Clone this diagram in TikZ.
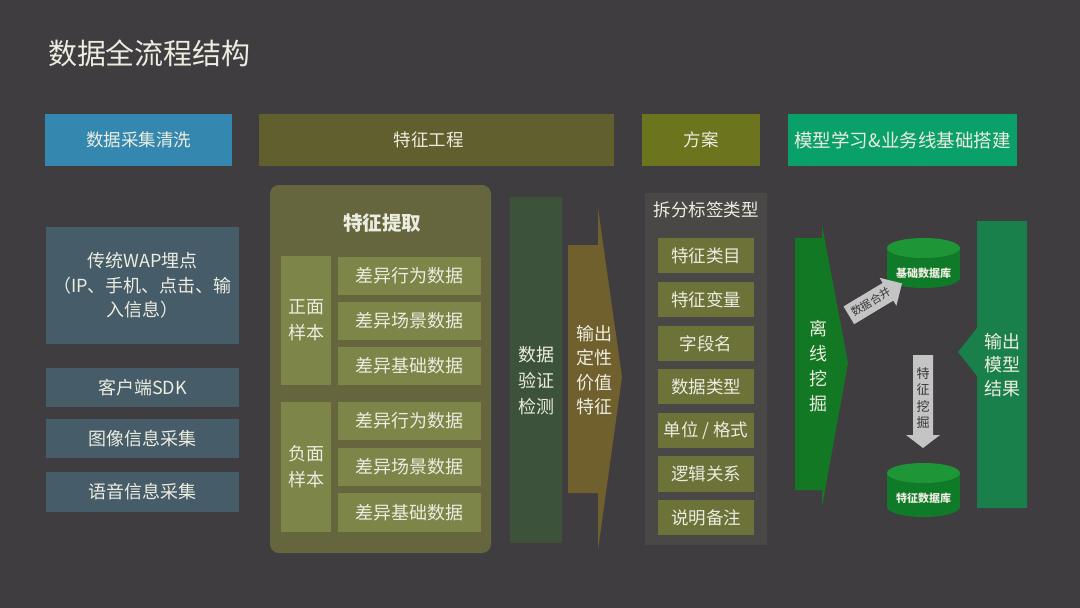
\documentclass[tikz,border=0pt]{standalone}
\usepackage{fontspec}
\setmainfont{Noto Sans CJK SC}
\usetikzlibrary{shapes.geometric,shapes.arrows}
\definecolor{bg}{RGB}{63,61,64}
\definecolor{txt}{RGB}{236,236,224}
\definecolor{hblue}{RGB}{52,136,176}
\definecolor{holive}{RGB}{96,95,45}
\definecolor{hplan}{RGB}{108,116,30}
\definecolor{hgreen}{RGB}{10,160,105}
\definecolor{slate}{RGB}{70,92,104}
\definecolor{panel}{RGB}{102,102,62}
\definecolor{inner}{RGB}{125,133,72}
\definecolor{verify}{RGB}{60,82,58}
\definecolor{outarrow}{RGB}{112,96,46}
\definecolor{planbg}{RGB}{74,72,70}
\definecolor{planbox}{RGB}{108,114,56}
\definecolor{mine}{RGB}{18,120,35}
\definecolor{cyltop}{RGB}{30,150,55}
\definecolor{cylside}{RGB}{15,122,40}
\definecolor{result}{RGB}{25,128,75}
\definecolor{lgray}{RGB}{196,196,196}
\definecolor{dtxt}{RGB}{55,55,55}
\newcommand\rectnode[7]{\node[#6, minimum width={(#4-#2)*1pt}, minimum height={(#5-#3)*1pt}] (#1) at ({(#2+#4)/2},{(#3+#5)/2}) {#7};}
\tikzset{
  hdr/.style={font=\fontsize{17.5}{17.5}\selectfont},
  lbox/.style={fill=slate, font=\fontsize{18}{24.5}\selectfont},
  fbox/.style={fill=inner, font=\fontsize{18}{26}\selectfont},
  pbox/.style={fill=planbox, font=\fontsize{17.5}{17.5}\selectfont},
  vtext/.style={font=\fontsize{18}{25}\selectfont},
  dblabel/.style={font=\fontsize{11}{11}\selectfont\bfseries},
}
\begin{document}
\begin{tikzpicture}[x=1pt,y=-1pt, every node/.style={inner sep=0pt, outer sep=0pt, text=txt, align=center}]
\fill[bg] (0,0) rectangle (1080,608);
\useasboundingbox (0,0) rectangle (1080,608);
% title
\node[anchor=west, font=\fontsize{29}{29}\selectfont] (title) at (48,53) {数据全流程结构};
% headers
\rectnode{h1}{45}{114}{232}{166}{hdr, fill=hblue}{数据采集清洗}
\rectnode{h2}{259}{114}{614}{166}{hdr, fill=holive}{\hspace*{-16pt}特征工程}
\rectnode{h3}{642}{114}{760}{166}{hdr, fill=hplan}{方案}
\rectnode{h4}{788}{114}{1017}{166}{hdr, fill=hgreen, font=\fontsize{18.5}{18.5}\selectfont}{模型学习\&业务线基础搭建}
% left column
\rectnode{w1}{46}{227}{239}{344}{lbox}{传统WAP埋点\\（IP、手机、点击、输\\入信息）}
\rectnode{w2}{46}{368}{239}{407}{lbox}{客户端SDK}
\rectnode{w3}{46}{419}{239}{458}{lbox}{图像信息采集}
\rectnode{w4}{46}{472}{239}{512}{lbox}{语音信息采集}
% feature extraction panel
\fill[panel, rounded corners=9pt] (270,185) rectangle (491,553);
\node[font=\fontsize{19.5}{19.5}\selectfont\bfseries] (fe) at (382,223) {特征提取};
\rectnode{pos}{281}{256}{331}{385}{fbox}{正面\\样本}
\rectnode{p1}{338}{257}{481}{295}{fbox}{差异行为数据}
\rectnode{p2}{338}{302}{481}{340}{fbox}{差异场景数据}
\rectnode{p3}{338}{347}{481}{385}{fbox}{差异基础数据}
\rectnode{neg}{281}{402}{331}{532}{fbox}{负面\\样本}
\rectnode{n1}{338}{402}{481}{440}{fbox}{差异行为数据}
\rectnode{n2}{338}{448}{481}{486}{fbox}{差异场景数据}
\rectnode{n3}{338}{493}{481}{532}{fbox}{差异基础数据}
% verification column
\fill[verify] (510,197) rectangle (562,543);
\node[font=\fontsize{18}{26}\selectfont] (verify) at (536,381) {数据\\验证\\检测};
% output arrow
\fill[outarrow] (568,245) -- (598,245) -- (598,208) -- (622,377) -- (598,550) -- (598,493) -- (568,493) -- cycle;
\node[font=\fontsize{18}{24.5}\selectfont] (outfeat) at (594,370) {输出\\定性\\价值\\特征};
% plan panel
\fill[planbg] (645,193) rectangle (767,545);
\node[font=\fontsize{17.5}{17.5}\selectfont] (plantitle) at (706,210) {拆分标签类型};
\rectnode{s1}{658}{238}{754}{273}{pbox}{特征类目}
\rectnode{s2}{658}{282}{754}{317}{pbox}{特征变量}
\rectnode{s3}{658}{326}{754}{361}{pbox}{字段名}
\rectnode{s4}{658}{369}{754}{404}{pbox}{数据类型}
\rectnode{s5}{658}{413}{754}{448}{pbox}{单位 / 格式}
\rectnode{s6}{658}{456}{754}{492}{pbox}{逻辑关系}
\rectnode{s7}{658}{500}{754}{535}{pbox}{说明备注}
% offline mining arrow
\fill[mine] (795,238) -- (822,238) -- (822,225) -- (848,363) -- (822,507) -- (822,490) -- (795,490) -- cycle;
\node[vtext] (mining) at (818,366) {离\\线\\挖\\掘};
% base database cylinder
\fill[cylside] (887,248) rectangle (960,278);
\fill[cylside] (923.5,278) ellipse [x radius=36.5, y radius=10];
\fill[cyltop] (923.5,248) ellipse [x radius=36.5, y radius=10];
\node[dblabel] (basedb) at (923.5,273) {基础数据库};
% feature database cylinder
\fill[cylside] (887,473) rectangle (960,507);
\fill[cylside] (923.5,507) ellipse [x radius=36.5, y radius=10];
\fill[cyltop] (923.5,473) ellipse [x radius=36.5, y radius=10];
\node[dblabel] (featdb) at (923.5,498) {特征数据库};
% merge arrow
\node[single arrow, fill=lgray, text=dtxt, rotate=31, minimum height=62pt, inner xsep=3pt, inner ysep=5pt, single arrow head extend=6pt, single arrow head indent=0pt, font=\fontsize{11}{11}\selectfont] (merge) at (871,302) {数据合并};
% feature mining arrow (down)
\fill[lgray] (913,355) -- (933,355) -- (933,435) -- (940,435) -- (923,448) -- (906,435) -- (913,435) -- cycle;
\node[text=dtxt, font=\fontsize{13}{16.5}\selectfont] (fmine) at (923,398) {特\\征\\挖\\掘};
% output model result
\fill[result] (977,221) -- (1027,221) -- (1027,508) -- (977,508) -- (977,376) -- (958,352) -- (977,328) -- cycle;
\node[font=\fontsize{18}{23.5}\selectfont] (model) at (1002,365) {输出\\模型\\结果};
\end{tikzpicture}
\end{document}
